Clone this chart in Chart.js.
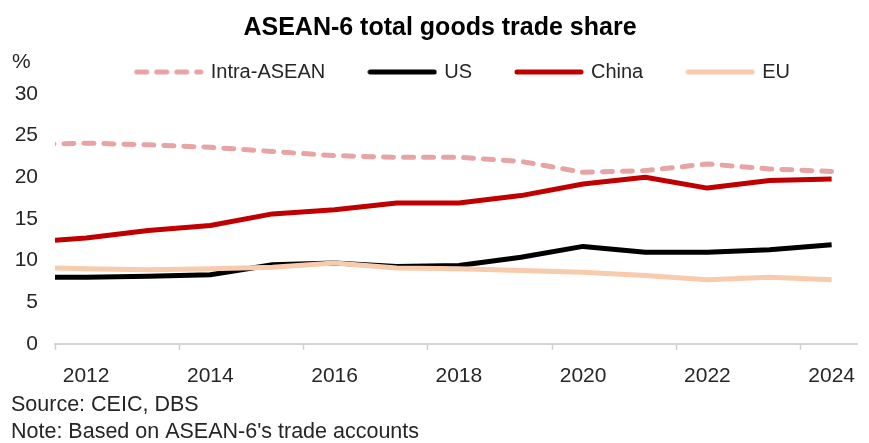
<!DOCTYPE html>
<html>
<head>
<meta charset="utf-8">
<title>ASEAN-6 total goods trade share</title>
<script src="https://cdn.jsdelivr.net/npm/chart.js@4"></script>
<style>
    html, body { margin: 0; padding: 0; background: #ffffff; }
    #wrap { width: 869px; height: 443px; position: relative; }
</style>
</head>
<body>
<div id="wrap"><canvas id="tradeChart"></canvas></div>
<script>
// Share of ASEAN-6 total goods trade by partner, %
const years = [2011, 2012, 2013, 2014, 2015, 2016, 2017, 2018, 2019, 2020, 2021, 2022, 2023, 2024];
const intraAsean = [23.9, 24.1, 23.9, 23.6, 23.1, 22.6, 22.4, 22.4, 21.9, 20.6, 20.8, 21.6, 21.0, 20.7];
const usShare    = [8.0, 8.0, 8.1, 8.3, 9.5, 9.7, 9.3, 9.4, 10.4, 11.7, 11.0, 11.0, 11.3, 11.9];
const chinaShare = [12.2, 12.7, 13.6, 14.2, 15.6, 16.1, 16.9, 16.9, 17.8, 19.2, 20.0, 18.7, 19.6, 19.8];
const euShare    = [9.2, 9.0, 8.9, 9.0, 9.2, 9.7, 9.1, 9.0, 8.8, 8.6, 8.2, 7.7, 8.0, 7.7];

const labelYears = [2012, 2014, 2016, 2018, 2020, 2022, 2024];
const yTicks = [0, 5, 10, 15, 20, 25, 30];

const FONT = '"Liberation Sans", Arial, sans-serif';
const TEXT = '#262626';

document.addEventListener('DOMContentLoaded', function() {
    Chart.defaults.font.family = FONT;
    Chart.defaults.font.size = 21;
    Chart.defaults.color = TEXT;
    createTradeChart();
});

function toPoints(values) {
    return values.map(function(v, i) { return { x: years[i], y: v }; });
}

// small line swatch for the legend (keeps the dash pattern visible)
function lineSample(color, dash) {
    const c = document.createElement('canvas');
    c.width = 70;
    c.height = 8;
    const g = c.getContext('2d');
    g.strokeStyle = color;
    g.lineWidth = 5;
    g.lineCap = 'round';
    g.setLineDash(dash);
    g.beginPath();
    g.moveTo(3, 4);
    g.lineTo(67, 4);
    g.stroke();
    return c;
}

// legend sits over the plot area, "%" goes above the y labels
const layoutTweaks = {
    id: 'layoutTweaks',
    afterLayout: function(chart) {
        const legend = chart.legend;
        const opts = legend.options.labels;
        legend.left = chart.chartArea.left + 14;
        legend.right = chart.chartArea.right;
        legend.top = 72 - opts.padding - opts.font.size / 2;
    },
    afterDraw: function(chart) {
        const ctx = chart.ctx;
        ctx.save();
        ctx.font = '21px ' + FONT;
        ctx.fillStyle = TEXT;
        ctx.textAlign = 'left';
        ctx.textBaseline = 'middle';
        ctx.fillText('%', 12, 62);
        ctx.restore();
    }
};

function createTradeChart() {
    const ctx = document.getElementById('tradeChart');

    // tick marks fall between the year labels
    const xTickValues = [];
    labelYears.forEach(function(y) {
        xTickValues.push(y - 0.5);
        xTickValues.push(y);
    });

    new Chart(ctx, {
        type: 'line',
        data: {
            datasets: [
                {
                    label: 'Intra-ASEAN',
                    data: toPoints(intraAsean),
                    borderColor: '#E8A3A4',
                    borderWidth: 5,
                    borderDash: [10, 10],
                    borderCapStyle: 'round',
                    order: 4
                },
                {
                    label: 'US',
                    data: toPoints(usShare),
                    borderColor: '#000000',
                    borderWidth: 5,
                    order: 3
                },
                {
                    label: 'China',
                    data: toPoints(chinaShare),
                    borderColor: '#C00000',
                    borderWidth: 5,
                    order: 2
                },
                {
                    label: 'EU',
                    data: toPoints(euShare),
                    borderColor: '#F8CBAD',
                    borderWidth: 5,
                    order: 1
                }
            ]
        },
        options: {
            responsive: true,
            maintainAspectRatio: false,
            animation: false,
            layout: { padding: { left: 11 } },
            elements: {
                point: { radius: 0, hoverRadius: 0 },
                line: { tension: 0, borderJoinStyle: 'round', fill: false }
            },
            plugins: {
                title: {
                    display: true,
                    text: 'ASEAN-6 total goods trade share',
                    color: '#000000',
                    font: { size: 25, weight: 'bold' },
                    padding: { top: 13, bottom: 5 }
                },
                subtitle: {
                    display: true,
                    position: 'bottom',
                    align: 'start',
                    text: ['Source: CEIC, DBS', "Note: Based on ASEAN-6's trade accounts"],
                    font: { size: 21.5, lineHeight: 1.26 },
                    padding: { top: 0, bottom: -3 }
                },
                legend: {
                    display: true,
                    position: 'top',
                    maxHeight: 46,
                    labels: {
                        usePointStyle: true,
                        pointStyleWidth: 64,
                        padding: 45,
                        font: { size: 20 },
                        color: TEXT,
                        sort: function(a, b) { return a.datasetIndex - b.datasetIndex; },
                        generateLabels: function(chart) {
                            const items = Chart.defaults.plugins.legend.labels.generateLabels(chart);
                            items.forEach(function(item) {
                                const ds = chart.data.datasets[item.datasetIndex];
                                item.pointStyle = lineSample(ds.borderColor, ds.borderDash || []);
                            });
                            return items;
                        }
                    }
                },
                tooltip: { enabled: false }
            },
            scales: {
                x: {
                    type: 'linear',
                    min: 2011.5,
                    max: 2024.42,
                    afterBuildTicks: function(scale) {
                        scale.ticks = xTickValues.map(function(v) { return { value: v }; });
                    },
                    afterFit: function(scale) { scale.height = 48; },
                    ticks: {
                        autoSkip: false,
                        maxRotation: 0,
                        padding: 14,
                        callback: function(value) {
                            return labelYears.indexOf(value) >= 0 ? String(value) : '';
                        }
                    },
                    grid: {
                        drawOnChartArea: false,
                        drawTicks: true,
                        tickLength: 6,
                        tickWidth: 1.5,
                        tickColor: function(c) {
                            return c.tick && c.tick.value % 1 !== 0 ? '#cfcfcf' : 'rgba(0,0,0,0)';
                        }
                    },
                    border: { display: true, color: '#d4d4d4', width: 2 }
                },
                y: {
                    min: 0,
                    max: 30,
                    afterBuildTicks: function(scale) {
                        scale.ticks = yTicks.map(function(v) { return { value: v }; });
                    },
                    afterFit: function(scale) { scale.width = 44; },
                    ticks: { padding: 17 },
                    grid: { display: false, drawTicks: false },
                    border: { display: false }
                }
            }
        },
        plugins: [layoutTweaks]
    });
}
</script>
</body>
</html>
